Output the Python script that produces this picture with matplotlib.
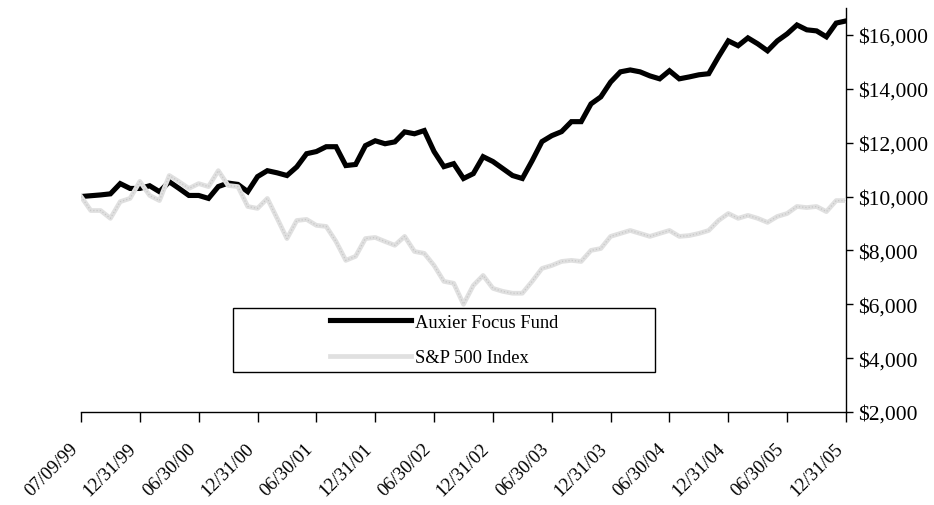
import matplotlib
matplotlib.use("Agg")
import matplotlib.pyplot as plt
from matplotlib.patches import Rectangle
from matplotlib.ticker import FuncFormatter
import matplotlib.transforms as mtransforms

plt.rcParams['font.family'] = ['Liberation Serif', 'DejaVu Serif']

# etiquetas del eje x (cada 6 meses)
fechas = ['07/09/99', '12/31/99', '06/30/00', '12/31/00', '06/30/01', '12/31/01', '06/30/02',
          '12/31/02', '06/30/03', '12/31/03', '06/30/04', '12/31/04', '06/30/05', '12/31/05']

# valores mensuales, 79 puntos
auxier = [10000, 10030, 10060, 10100, 10480, 10300, 10300, 10400, 10180, 10550,
          10300, 10040, 10040, 9930, 10370, 10500, 10450, 10180, 10740, 10960,
          10880, 10780, 11100, 11590, 11670, 11850, 11850, 11150, 11190, 11890,
          12070, 11960, 12030, 12400, 12330, 12450, 11670, 11110, 11220, 10670,
          10850, 11480, 11300, 11040, 10780, 10670, 11330, 12040, 12260, 12410,
          12780, 12780, 13440, 13700, 14250, 14630, 14700, 14630, 14480, 14370,
          14670, 14370, 14440, 14520, 14560, 15190, 15780, 15600, 15890, 15670,
          15410, 15780, 16040, 16370, 16190, 16150, 15930, 16440, 16520]

sp500 = [10000, 9480, 9480, 9190, 9810, 9930, 10560, 10040, 9850, 10780,
         10550, 10300, 10480, 10370, 10960, 10410, 10370, 9630, 9560, 9930,
         9190, 8440, 9110, 9150, 8930, 8890, 8330, 7630, 7780, 8440,
         8480, 8330, 8190, 8520, 7960, 7890, 7440, 6850, 6780, 6000,
         6700, 7070, 6590, 6480, 6410, 6410, 6850, 7330, 7440, 7590,
         7630, 7590, 8000, 8070, 8520, 8630, 8740, 8630, 8520, 8630,
         8740, 8520, 8550, 8630, 8740, 9110, 9370, 9190, 9300, 9190,
         9040, 9260, 9370, 9630, 9590, 9630, 9440, 9850, 9850]

meses = list(range(len(auxier)))
paso = 6

fig = plt.figure(figsize=(9.34, 5.06), dpi=100)
ax = fig.add_axes([81 / 934, 1 - 413 / 506, 765 / 934, 404 / 506])

ax.plot(meses, auxier, color='black', lw=3.7, solid_joinstyle='miter', zorder=3,
        label='Auxier Focus Fund')
ax.plot(meses, sp500, color='#e0e0e0', lw=3.4, zorder=4, label='S&P 500 Index')
ax.plot(meses, sp500, color='#c8c8c8', lw=0.9, ls=(0, (1, 1.6)), zorder=5)

ax.set_xlim(0, len(auxier) - 1)
ax.set_ylim(2000, 17000)

ax.set_xticks(meses[::paso])
ax.set_xticklabels(fechas, rotation=45, ha='right', va='top', fontsize=13.5)
off = mtransforms.ScaledTranslation(-10 / 100, 0, fig.dpi_scale_trans)
for lab in ax.get_xticklabels():
    lab.set_transform(lab.get_transform() + off)
ax.tick_params(axis='x', direction='out', length=7, width=1, pad=13)

ax.yaxis.tick_right()
ax.set_yticks(range(2000, 17000, 2000))
ax.yaxis.set_major_formatter(FuncFormatter(lambda v, p: '${:,.0f}'.format(v)))
ax.tick_params(axis='y', direction='out', length=5, width=1, labelsize=15.5, pad=4)

ax.spines['left'].set_visible(False)
ax.spines['top'].set_visible(False)
ax.spines['right'].set_linewidth(1)
ax.spines['bottom'].set_linewidth(1)

# caja de la leyenda
ax.add_patch(Rectangle((0.199, 0.099), 0.551, 0.158, transform=ax.transAxes,
                       fill=False, edgecolor='black', lw=1, zorder=6))
leg = ax.legend(loc='center', bbox_to_anchor=(0.4745, 0.178), frameon=False,
                fontsize=13.3, handlelength=4.4, handletextpad=0.2, labelspacing=1.0,
                borderpad=0)
leg.set_zorder(7)

fig.savefig('out.png', dpi=100)
